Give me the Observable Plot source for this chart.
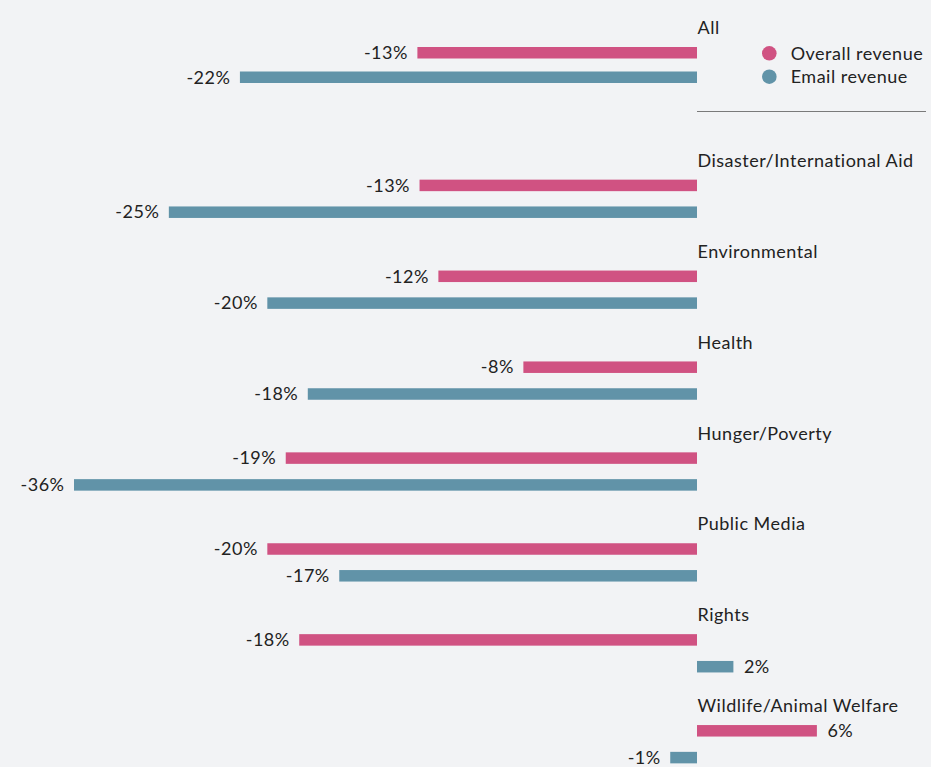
<!DOCTYPE html>
<html>
<head>
<meta charset="utf-8">
<script src="https://cdn.jsdelivr.net/npm/d3@7"></script>
<script src="https://cdn.jsdelivr.net/npm/@observablehq/plot@0.6"></script>
<style>
  html, body { margin: 0; padding: 0; background: #f2f3f5; }
  #wrap { position: relative; width: 931px; height: 767px; overflow: hidden; background: #f2f3f5; font-family: Lato, "Open Sans", sans-serif; color: #222; }
  #wrap text { letter-spacing: 0.5px; }
</style>
</head>
<body>
<div id="wrap"></div>
<script>
// ---- data ----
const categories = ["All", "Disaster/International Aid", "Environmental", "Health", "Hunger/Poverty", "Public Media", "Rights", "Wildlife/Animal Welfare"];
const seriesNames = ["Overall revenue", "Email revenue"];
const seriesColors = ["#d05282", "#6193a8"];
const overallRevenue = [-13.06, -12.96, -12.08, -8.11, -19.21, -20.07, -18.58, 5.6];
const emailRevenue   = [-21.35, -24.67, -20.07, -18.18, -36, -16.71, 1.7, -1.25];
const overallLabels  = ["-13%", "-13%", "-12%", "-8%", "-19%", "-20%", "-18%", "6%"];
const emailLabels    = ["-22%", "-25%", "-20%", "-18%", "-36%", "-17%", "2%", "-1%"];

const rows = [];
categories.forEach((c, i) => {
  rows.push({category: c, series: seriesNames[0], value: overallRevenue[i], label: overallLabels[i]});
  rows.push({category: c, series: seriesNames[1], value: emailRevenue[i], label: emailLabels[i]});
});
const catRows = categories.map(c => ({category: c}));

const FONT = "Lato, 'Open Sans', sans-serif";
const FS = 18;
const xScale = {domain: [-29.1, 10.93], clamp: true, axis: null};

function marks(data, cats, inset, facet, labelDy) {
  const fy = facet ? {fy: "category"} : {};
  return [
    Plot.barX(data, {x1: 0, x2: "value", y: "series", fill: "series", insetTop: inset, insetBottom: inset, ...fy}),
    Plot.text(data.filter(d => d.value < 0), {x: "value", y: "series", text: "label", textAnchor: "end", dx: -10, fontSize: FS, fill: "#222", ...fy}),
    Plot.text(data.filter(d => d.value >= 0), {x: "value", y: "series", text: "label", textAnchor: "start", dx: 10, fontSize: FS, fill: "#222", ...fy}),
    Plot.text(cats, {x: d => 0, y: d => "label", text: "category", textAnchor: "start", dy: labelDy, fontSize: FS, fill: "#222", ...fy})
  ];
}

const common = {
  width: 931,
  marginLeft: 74,
  marginRight: 0,
  x: xScale,
  color: {domain: seriesNames, range: seriesColors},
  style: {fontFamily: FONT, background: "transparent", color: "#222", overflow: "visible"}
};

// "All" block
const plotA = Plot.plot({
  ...common,
  height: 110,
  marginTop: 16,
  marginBottom: 20.5,
  y: {domain: ["label", ...seriesNames], padding: 0, round: false, axis: null},
  marks: marks(rows.filter(d => d.category === "All"), catRows.slice(0, 1), 6.5, false, -1)
});

// segment blocks
const plotB = Plot.plot({
  ...common,
  height: 649,
  marginTop: 23.2,
  marginBottom: 0,
  y: {domain: ["label", ...seriesNames], padding: 0, round: false, axis: null},
  fy: {domain: categories.slice(1), paddingInner: 0.1155, paddingOuter: 0, round: false, axis: null},
  marks: marks(rows.filter(d => d.category !== "All"), catRows.slice(1), 7.65, true, 2)
});

const wrap = document.getElementById("wrap");
plotA.style.position = "absolute";
plotB.style.position = "absolute";
plotA.style.left = "0px";
plotB.style.left = "0px";
plotA.style.top = "0px";
plotB.style.top = "121.5px";
wrap.appendChild(plotA);
wrap.appendChild(plotB);

// legend + separator
const ns = "http://www.w3.org/2000/svg";
const leg = document.createElementNS(ns, "svg");
leg.setAttribute("width", 931); leg.setAttribute("height", 130);
leg.style.position = "absolute";
leg.style.left = "0px";
leg.style.top = "0px";
seriesNames.forEach((s, i) => {
  const cy = 53.3 + i * 23.4;
  const c = document.createElementNS(ns, "circle");
  c.setAttribute("cx", 769.3); c.setAttribute("cy", cy); c.setAttribute("r", 7.3);
  c.setAttribute("fill", seriesColors[i]);
  leg.appendChild(c);
  const t = document.createElementNS(ns, "text");
  t.setAttribute("x", 790.7); t.setAttribute("y", cy + 6.4);
  t.setAttribute("font-family", FONT); t.setAttribute("font-size", FS); t.setAttribute("fill", "#222");
  t.textContent = s;
  leg.appendChild(t);
});
const ln = document.createElementNS(ns, "line");
ln.setAttribute("x1", 697); ln.setAttribute("x2", 926); ln.setAttribute("y1", 111.5); ln.setAttribute("y2", 111.5);
ln.setAttribute("stroke", "#7a7a7a"); ln.setAttribute("stroke-width", 1);
leg.appendChild(ln);
wrap.appendChild(leg);
</script>
</body>
</html>
